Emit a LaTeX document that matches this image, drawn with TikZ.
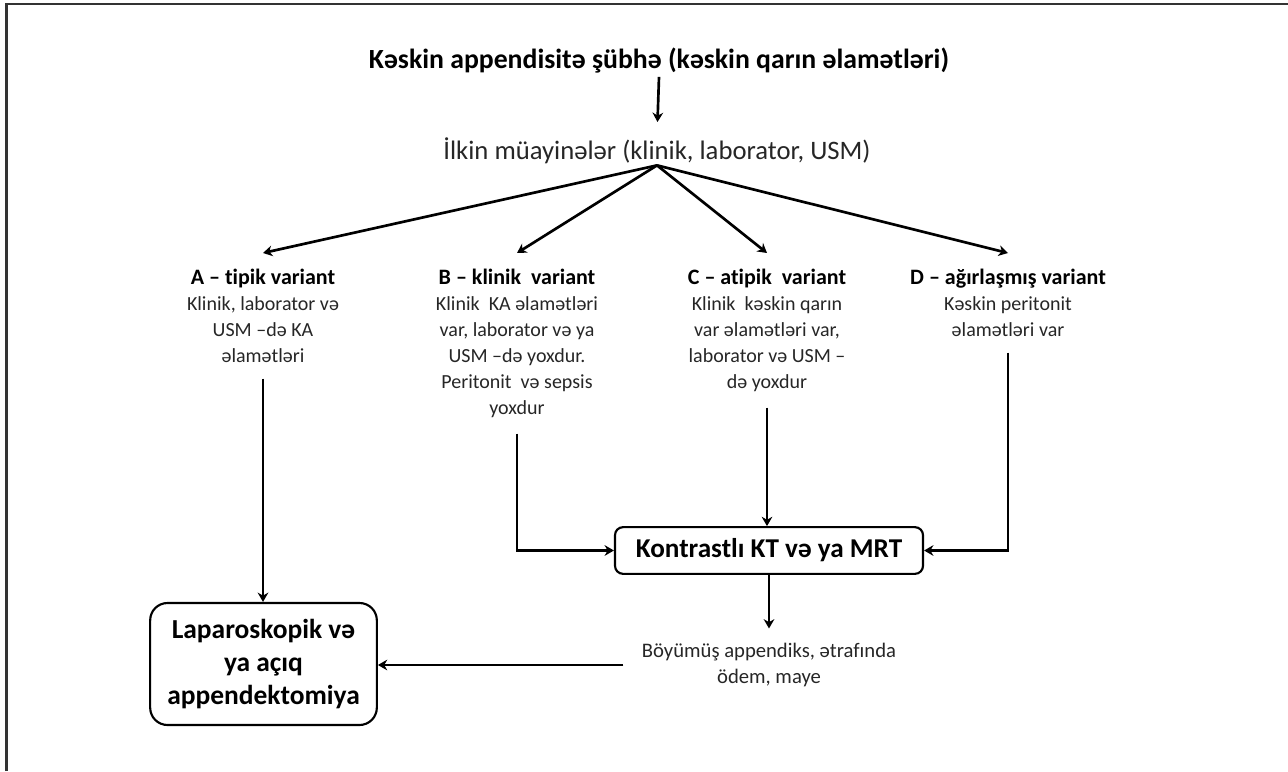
\documentclass[tikz,border=0pt]{standalone}
\usepackage{fontspec}
\setmainfont{Carlito}[Ligatures=NoCommon]
\usetikzlibrary{arrows.meta}
\newcommand{\vhead}[1]{\textcolor{black}{\fontsize{16.5}{19.5}\selectfont\textbf{#1}}}
\begin{document}
\begin{tikzpicture}[x=0.75pt, y=-0.75pt, >={Stealth[length=7pt, width=8pt]}, line width=2pt,
    txt/.style={align=center, text=black!85, font=\fontsize{15}{19.5}\selectfont},
    variant/.style={txt, anchor=north, inner xsep=2pt, inner ysep=11pt},
    hbox/.style={draw, line width=1.6pt, align=center, text=black}]
	% 外框
	\useasboundingbox (0,0) rectangle (1288,771);
	\draw[line width=2pt, black!80] (6.5,771) -- (6.5,4) -- (1288,4);
	
	% 标题与初步检查
	\node[text=black, font=\bfseries\fontsize{20.8}{24}\selectfont, inner sep=1.5pt] (suspect) at (659,61) {Kəskin appendisitə şübhə (kəskin qarın əlamətləri)};
	\node[txt, font=\fontsize{20}{24}\selectfont, inner sep=0pt] (exam) at (657,151) {İlkin müayinələr (klinik, laborator, USM)};
	\draw[->, shorten >=11pt] (suspect.south) -- (exam.north);
	
	% 四种变体
	\node[variant] (typA) at (263,253) {\vhead{A – tipik variant}\\Klinik, laborator və\\USM –də KA\\əlamətləri};
	\node[variant] (typB) at (517,253) {\vhead{B – klinik\ \ variant}\\Klinik\ \ KA əlamətləri\\var, laborator və ya\\USM –də yoxdur.\\Peritonit\ \ və sepsis\\yoxdur};
	\node[variant] (typC) at (767,253) {\vhead{C – atipik\ \ variant}\\Klinik\ \ kəskin qarın\\var əlamətləri var,\\laborator və USM –\\də yoxdur};
	\node[variant] (typD) at (1008,253) {\vhead{D – ağırlaşmış variant}\\Kəskin peritonit\\əlamətləri var};
	\foreach \v in {typA, typB, typC, typD}
		\draw[->] (exam.south) -- (\v.north);
	
	% 影像学与手术
	\node[hbox, rounded corners=6pt, minimum width=231pt, minimum height=35pt, font=\bfseries\fontsize{20.4}{24}\selectfont] (imaging) at (769,550.5) {Kontrastlı KT və ya MRT};
	\node[hbox, rounded corners=13pt, minimum width=170pt, minimum height=91.5pt, font=\bfseries\fontsize{20.6}{25}\selectfont] (surgery) at (263.5,664) {Laparoskopik və\\ya açıq\\appendektomiya};
	\node[txt, font=\fontsize{15.5}{19.5}\selectfont, inner xsep=13pt, inner ysep=10pt] (finding) at (769,665) {Böyümüş appendiks, ətrafında\\ödem, maye};
	
	% 连线
	\draw[->] (typA.south) -- (typA.south |- surgery.north);
	\draw[->] (typB.south) |- (imaging.west);
	\draw[->] (typC.south) -- (typC.south |- imaging.north);
	\draw[->] (typD.south) |- (imaging.east);
	\draw[->] (imaging.south) -- (finding.north);
	\draw[->] (finding.west) -- (finding.west -| surgery.east);
\end{tikzpicture}
\end{document}
